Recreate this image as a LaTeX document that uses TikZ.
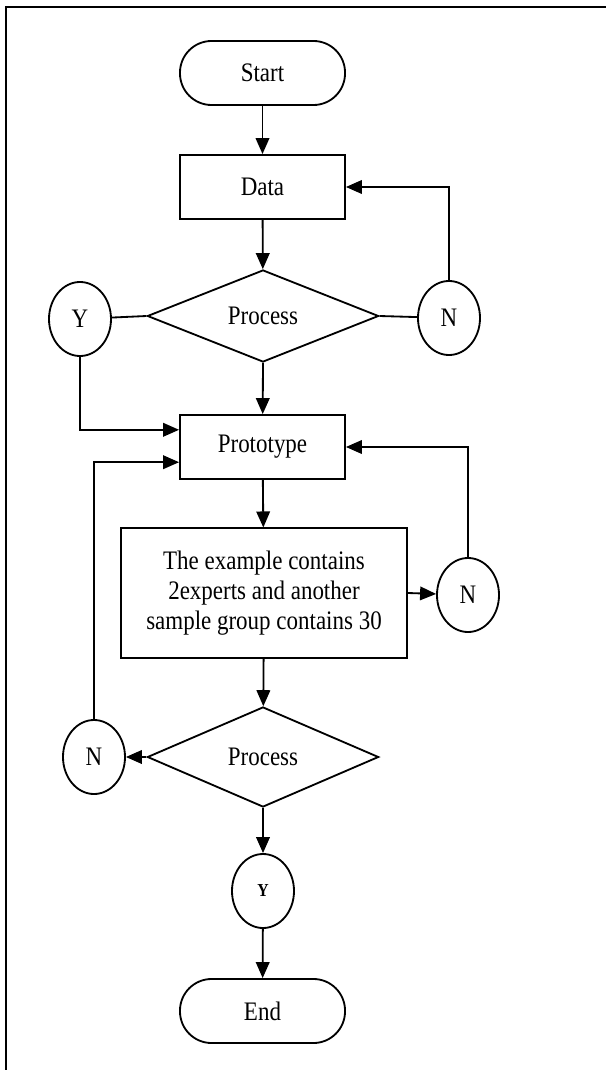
\documentclass[tikz,border=0pt]{standalone}
\usepackage{fontspec}
\setmainfont{Liberation Serif}[FakeStretch=0.86]
\usetikzlibrary{shapes.geometric,arrows.meta}

\tikzset{
  flowline/.style={line width=1.3pt},
  flowarrow/.style={flowline, -{Triangle[length=0.4cm,width=0.34cm]}},
  terminal/.style={draw, line width=1.3pt, rectangle, rounded corners=0.79cm,
    minimum width=4.125cm, minimum height=1.6cm},
  procbox/.style={draw, line width=1.3pt, rectangle,
    minimum width=4.125cm, minimum height=1.6cm},
  decision/.style={draw, line width=1.3pt, diamond, inner sep=0pt,
    minimum width=5.78cm, minimum height=2.3cm},
  connector/.style={draw, line width=1.3pt, ellipse, inner sep=0pt,
    minimum width=1.55cm, minimum height=1.85cm}
}

\begin{document}
\begin{tikzpicture}[x=0.025cm, y=-0.025cm, font=\fontsize{19}{21.5}\selectfont]
      \useasboundingbox (0, 0) rectangle (606, 1070);
      \draw[line width=1.5pt] (6, 1070) -- (6, 7) -- (606, 7);

      \node[terminal] (start) at (262.5, 73) {Start};
      \node[procbox] (data) at (262.5, 187) {Data};
      \node[decision] (dec1) at (263, 316) {Process};
      \node[connector] (yes1) at (80, 319) {Y};
      \node[connector] (no1) at (449, 318) {N};
      \node[procbox] (proto) at (262.5, 447) {Prototype};
      \node[procbox, minimum width=7.15cm, minimum height=3.23cm, align=center] (sample) at (264, 593)
        {The example contains\\2experts and another\\sample group contains 30};
      \node[connector] (no2) at (468, 595) {N};
      \node[decision, minimum height=2.5cm] (dec2) at (263, 757) {Process};
      \node[connector] (no3) at (94, 757) {N};
      \node[connector, font=\fontsize{13}{14}\selectfont\bfseries] (yes2) at (263, 891) {Y};
      \node[terminal] (stop) at (262.5, 1011) {End};

      \draw[flowarrow] (start) -- (data);
      \draw[flowarrow] (data) -- (dec1);
      \draw[flowline] (dec1.west) -- (yes1);
      \draw[flowline] (dec1.east) -- (no1);
      \draw[flowarrow] (no1.north) |- (data.east);
      \draw[flowarrow] (dec1.south) -- (proto);
      \draw[flowarrow] (yes1.south) |- ([yshift=0.43cm]proto.west);
      \draw[flowarrow] (no3.north) |- ([yshift=-0.38cm]proto.west);
      \draw[flowarrow] (no2.north) |- (proto.east);
      \draw[flowarrow] (proto) -- (sample);
      \draw[flowarrow] (sample.east) -- (no2);
      \draw[flowarrow] (sample) -- (dec2);
      \draw[flowarrow] (dec2.west) -- (no3);
      \draw[flowarrow] (dec2.south) -- (yes2);
      \draw[flowarrow] (yes2) -- (stop);
    \end{tikzpicture}
\end{document}
